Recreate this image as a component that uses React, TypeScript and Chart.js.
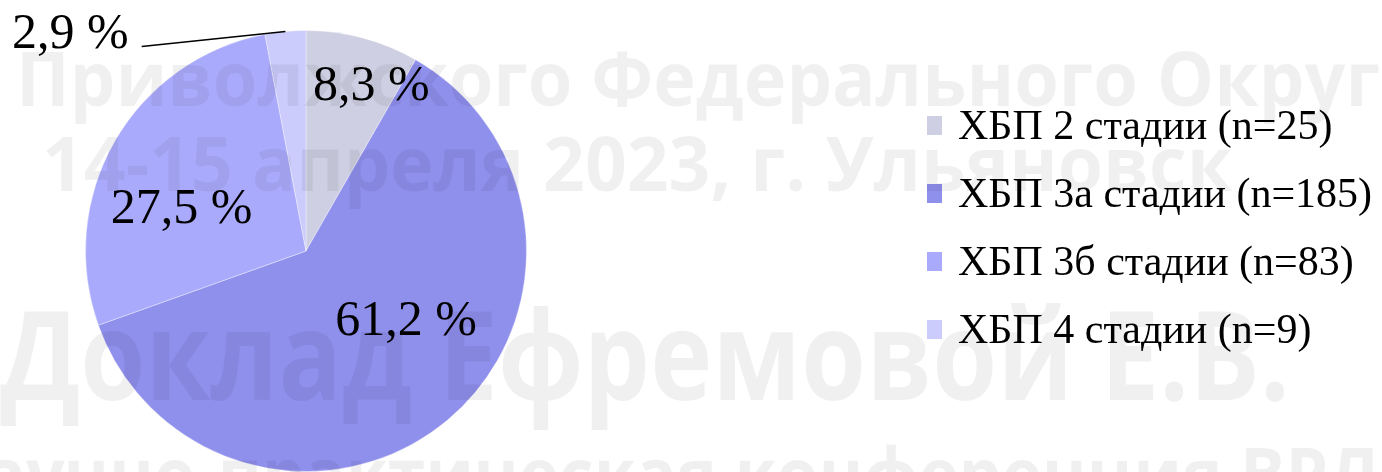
import React, { useEffect, useRef } from "react";
import { Chart, registerables } from "chart.js";

Chart.register(...registerables);

// ---- data ----
const categories = [
  "ХБП 2 стадии (n=25)",
  "ХБП 3а стадии (n=185)",
  "ХБП 3б стадии (n=83)",
  "ХБП 4 стадии (n=9)",
];
const patientCounts = [25, 185, 83, 9];
const percentLabels = ["8,3 %", "61,2 %", "27,5 %", "2,9 %"];
const sliceColors = ["#cfcfe3", "#8f8fec", "#aaaafc", "#cbcbfc"];
const watermarkTexts = [
  "Приволжского Федерального Округа",
  "14-15 апреля 2023, г. Ульяновск",
  "Доклад Ефремовой Е.В.",
  "научно-практическая конференция ВРЛ",
];

// ---- styling / layout (not data) ----
const W = 1382;
const H = 472;
const SERIF = '"Liberation Serif", "Times New Roman", serif';
const SANS = '"Open Sans", "Noto Sans", sans-serif';

// label placement relative to each arc's mid-angle (degrees) and radius fraction
const labelPlacement = [
  { dAngle: 6.8, r: 0.8 },
  { dAngle: -14.7, r: 0.557 },
  { dAngle: -11.5, r: 0.594 },
  { outside: true, dAngle: -33.4, r: 1.19 },
];

const legendLayout = { markerX: 927, markerW: 15, markerH: 19, textX: 958, firstBaseline: 139, gap: 68, size: 42 };

const watermarkLayout = [
  { x: 16, y: 106, size: 76, width: 1364, fit: "Приволжского Федерального Округ" },
  { x: 42, y: 191, size: 76, width: 1190 },
  { x: 0, y: 400, size: 124, width: 1290 },
  { x: -60, y: 502, size: 76, width: 1300, fit: "научно-практическая конференция " },
];

const labelsPlugin = {
  id: "pctLabels",
  afterDatasetsDraw(chart: any) {
    const ctx = chart.ctx;
    const meta = chart.getDatasetMeta(0);
    ctx.save();
    ctx.fillStyle = "#000";
    ctx.font = `50px ${SERIF}`;
    ctx.textBaseline = "middle";
    meta.data.forEach((arc: any, i: number) => {
      const p = labelPlacement[i];
      const { x, y, startAngle, endAngle, outerRadius } = arc.getProps(
        ["x", "y", "startAngle", "endAngle", "outerRadius"],
        true
      );
      const mid = (startAngle + endAngle) / 2;
      const text = percentLabels[i];
      if (p.outside) {
        const sx = x + Math.cos(mid) * outerRadius;
        const sy = y + Math.sin(mid) * outerRadius;
        const a = mid + (p.dAngle * Math.PI) / 180;
        const ex = x + Math.cos(a) * outerRadius * p.r;
        const ey = y + Math.sin(a) * outerRadius * p.r;
        ctx.strokeStyle = "#000";
        ctx.lineWidth = 1.5;
        ctx.beginPath();
        ctx.moveTo(sx, sy);
        ctx.lineTo(ex, ey);
        ctx.stroke();
        ctx.textAlign = "right";
        ctx.fillText(text, ex - 13, ey - 12);
      } else {
        const a = mid + (p.dAngle * Math.PI) / 180;
        const lx = x + Math.cos(a) * outerRadius * p.r;
        const ly = y + Math.sin(a) * outerRadius * p.r;
        ctx.textAlign = "center";
        ctx.fillText(text, lx, ly);
      }
    });
    ctx.restore();
  },
};

const legendPlugin = {
  id: "sideLegend",
  afterDraw(chart: any) {
    const ctx = chart.ctx;
    const labels = chart.data.labels as string[];
    const colors = chart.data.datasets[0].backgroundColor as string[];
    const L = legendLayout;
    ctx.save();
    ctx.font = `${L.size}px ${SERIF}`;
    ctx.textBaseline = "alphabetic";
    ctx.textAlign = "left";
    labels.forEach((lab, i) => {
      const base = L.firstBaseline + i * L.gap;
      ctx.fillStyle = colors[i];
      ctx.fillRect(L.markerX, base - 4 - L.markerH, L.markerW, L.markerH);
      ctx.fillStyle = "#000";
      ctx.fillText(lab, L.textX, base);
    });
    ctx.restore();
  },
};

const watermarkPlugin = {
  id: "watermark",
  afterDraw(chart: any) {
    const ctx = chart.ctx;
    ctx.save();
    ctx.fillStyle = "rgba(0,0,0,0.06)";
    ctx.textBaseline = "alphabetic";
    ctx.textAlign = "left";
    watermarkTexts.forEach((t, i) => {
      const w: any = watermarkLayout[i];
      ctx.font = `bold ${w.size}px ${SANS}`;
      const measured = ctx.measureText(w.fit || t).width;
      const sx = w.width ? w.width / measured : 1;
      ctx.save();
      ctx.translate(w.x, w.y);
      ctx.scale(sx, 1);
      ctx.fillText(t, 0, 0);
      ctx.restore();
    });
    ctx.restore();
  },
};

export default function App() {
  const ref = useRef<HTMLCanvasElement | null>(null);
  useEffect(() => {
    if (!ref.current) return;
    const chart = new Chart(ref.current, {
      type: "pie",
      data: {
        labels: categories,
        datasets: [
          {
            data: patientCounts,
            backgroundColor: sliceColors,
            borderColor: "rgba(255,255,255,0.35)",
            borderWidth: 1,
          },
        ],
      },
      options: {
        animation: false,
        responsive: false,
        devicePixelRatio: 1,
        layout: { padding: { left: 85, top: 30, right: W - 527, bottom: 0 } },
        plugins: {
          legend: { display: false },
          tooltip: { enabled: false },
        },
      },
      plugins: [labelsPlugin, legendPlugin, watermarkPlugin],
    });
    return () => chart.destroy();
  }, []);
  return (
    <div style={{ position: "fixed", left: 0, top: 0, width: W, height: H, background: "#fff" }}>
      <canvas ref={ref} width={W} height={H} style={{ width: W, height: H, display: "block" }} />
    </div>
  );
}
